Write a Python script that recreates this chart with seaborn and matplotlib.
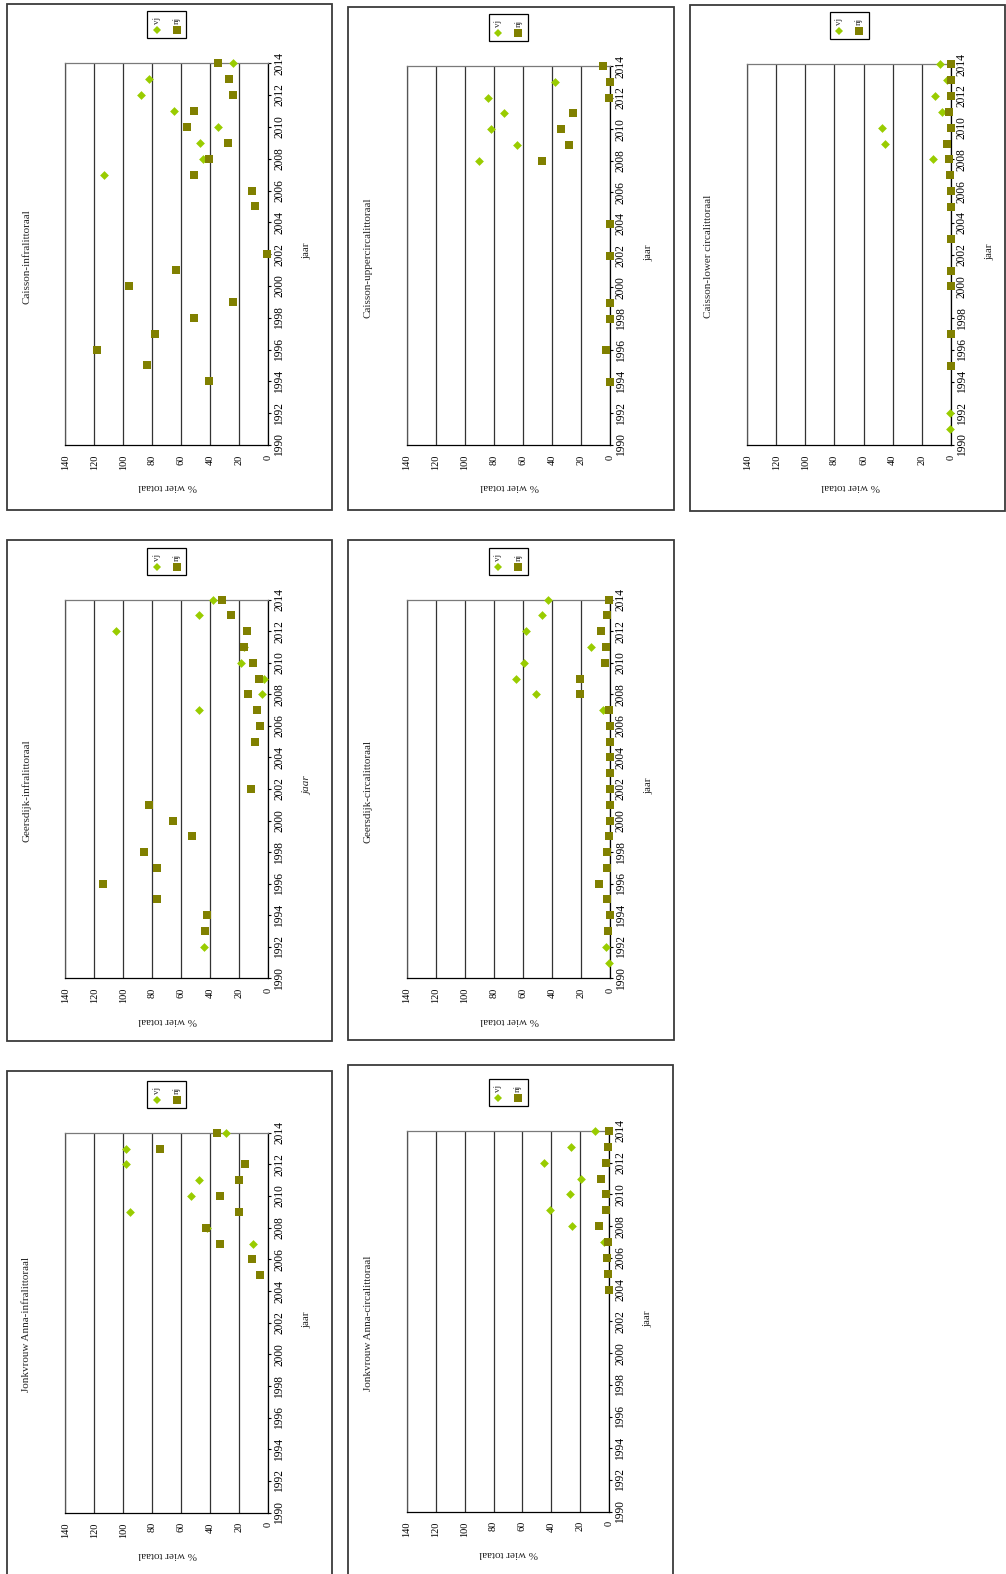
import matplotlib
matplotlib.use("Agg")
import matplotlib.pyplot as plt
from matplotlib.patches import Rectangle
from matplotlib.lines import Line2D
import seaborn as sns

sns.set_style("white")
plt.rcParams["font.family"] = ["Liberation Serif", "DejaVu Serif"]

W, H = 1006, 1574
VJ_COLOR = "#99CC00"
NJ_COLOR = "#808000"

# ---- data: % wier totaal per jaar, vj and nj ----
# Caisson-infralittoraal
ci_vj_years = [2014, 2013, 2012, 2011, 2010, 2009, 2008, 2007]
ci_vj = [24, 82, 88, 65, 35, 47, 45, 113]
ci_nj_years = [2014, 2013, 2012, 2011, 2010, 2009, 2008, 2007, 2006, 2005,
               2002, 2001, 2000, 1999, 1998, 1997, 1996, 1995, 1994]
ci_nj = [35, 27, 24, 51, 56, 28, 41, 51, 11, 9,
         1, 64, 96, 24, 51, 78, 118, 84, 41]

# Caisson-uppercircalittoraal
cu_vj_years = [2013, 2012, 2011, 2010, 2009, 2008]
cu_vj = [38, 84, 73, 82, 64, 90]
cu_nj_years = [2014, 2013, 2012, 2011, 2010, 2009, 2008, 2004, 2002,
               1999, 1998, 1996, 1994]
cu_nj = [5, 0, 1, 25.5, 34, 28.5, 47, 0, 0, 0.2, 0.2, 3, 0]

# Caisson-lower circalittoraal
cl_vj_years = [2014, 2013, 2012, 2011, 2010, 2009, 2008, 1992, 1991]
cl_vj = [7.5, 2.3, 10.5, 6, 47.5, 45, 12, 0.5, 0.5]
cl_nj_years = [2014, 2013, 2012, 2011, 2010, 2009, 2008, 2007, 2006, 2005,
               2003, 2001, 2000, 1997, 1995]
cl_nj = [0, 0, 0, 1, 0, 2.5, 1, 0.5, 0, 0, 0, 0, 0, 0, 0]

# Geersdijk-infralittoraal
gi_vj_years = [2014, 2013, 2012, 2011, 2010, 2009, 2008, 2007, 1992]
gi_vj = [38, 48, 105, 17, 19, 3, 4.5, 48, 44]
gi_nj_years = [2014, 2013, 2012, 2011, 2010, 2009, 2008, 2007, 2006, 2005,
               2002, 2001, 2000, 1999, 1998, 1997, 1996, 1995, 1994, 1993]
gi_nj = [32, 26, 14.5, 16.5, 10.5, 6.5, 14, 8, 6, 9,
         12, 82, 66, 52.5, 85.5, 77, 114, 77, 42, 43.5]

# Geersdijk-circalittoraal
gc_vj_years = [2014, 2013, 2012, 2011, 2010, 2009, 2008, 2007, 1992, 1991]
gc_vj = [43, 46.5, 58, 13, 59, 65, 51, 4.5, 3, 1]
gc_nj_years = [2014, 2013, 2012, 2011, 2010, 2009, 2008, 2007, 2006, 2005,
               2004, 2003, 2002, 2001, 2000, 1999, 1998, 1997, 1996, 1995,
               1994, 1993]
gc_nj = [1, 2.3, 6, 3, 3.5, 20.5, 20.5, 1, 0, 0,
         0, 0, 0, 0, 0, 1, 2.3, 2.3, 7.5, 2.3,
         0, 1.5]

# Jonkvrouw Anna-infralittoraal
ji_vj_years = [2014, 2013, 2012, 2011, 2010, 2009, 2008, 2007]
ji_vj = [29, 98, 98, 47.5, 53, 95.5, 42, 10.5]
ji_nj_years = [2014, 2013, 2012, 2011, 2010, 2009, 2008, 2007, 2006, 2005]
ji_nj = [35.5, 74.5, 16, 20.5, 33.5, 20, 43, 33.5, 11, 6]

# Jonkvrouw Anna-circalittoraal
jc_vj_years = [2014, 2013, 2012, 2011, 2010, 2009, 2008, 2007]
jc_vj = [10, 26.5, 45, 19.5, 27, 41, 26, 3.5]
jc_nj_years = [2014, 2013, 2012, 2011, 2010, 2009, 2008, 2007, 2006, 2005, 2004]
jc_nj = [0.5, 1.2, 2.5, 6, 2.5, 2.5, 7, 1.2, 1.8, 1.2, 0]

value_ticks = [0, 20, 40, 60, 80, 100, 120, 140]
year_ticks = list(range(1990, 2015, 2))

# ---- layout (pixel boxes: x0, y0, x1, y1 measured from the top-left) ----
panels = [
    dict(title="Caisson-infralittoraal", frame=(7, 4, 332, 510),
         plot=(65.3, 63.3, 268.3, 445), vj=(ci_vj_years, ci_vj), nj=(ci_nj_years, ci_nj)),
    dict(title="Caisson-uppercircalittoraal", frame=(348, 7, 674, 510),
         plot=(406.7, 66, 610, 445), vj=(cu_vj_years, cu_vj), nj=(cu_nj_years, cu_nj)),
    dict(title="Caisson-lower circalittoraal", frame=(690, 5, 1005, 511),
         plot=(747.3, 64.3, 950.7, 445), vj=(cl_vj_years, cl_vj), nj=(cl_nj_years, cl_nj)),
    dict(title="Geersdijk-infralittoraal", frame=(7, 540, 332, 1041),
         plot=(65.3, 599.7, 268.3, 978.3), vj=(gi_vj_years, gi_vj), nj=(gi_nj_years, gi_nj),
         jaar_style="italic"),
    dict(title="Geersdijk-circalittoraal", frame=(348, 540, 674, 1040),
         plot=(406.7, 599.7, 610, 978.3), vj=(gc_vj_years, gc_vj), nj=(gc_nj_years, gc_nj)),
    dict(title="Jonkvrouw Anna-infralittoraal", frame=(7, 1071, 332, 1600),
         plot=(65.3, 1132.7, 268.3, 1512.7), vj=(ji_vj_years, ji_vj), nj=(ji_nj_years, ji_nj)),
    dict(title="Jonkvrouw Anna-circalittoraal", frame=(348, 1065, 673, 1600),
         plot=(406.7, 1131, 609.3, 1511.7), vj=(jc_vj_years, jc_vj), nj=(jc_nj_years, jc_nj)),
]

fig = plt.figure(figsize=(W / 100, H / 100), dpi=100)
fig.patch.set_facecolor("white")


def fx(x):
    return x / W


def fy(y):
    return 1 - y / H


def draw_panel(p):
    x0, y0, x1, y1 = p["frame"]
    fig.add_artist(Rectangle((fx(x0), fy(y1)), (x1 - x0) / W, (y1 - y0) / H,
                             transform=fig.transFigure, fill=False,
                             edgecolor="#3a3a3a", linewidth=1.3))

    px0, py0, px1, py1 = p["plot"]
    ax = fig.add_axes([fx(px0), fy(py1), (px1 - px0) / W, (py1 - py0) / H])
    ax.set_facecolor("white")

    vj_years, vj_vals = p["vj"]
    nj_years, nj_vals = p["nj"]
    sns.scatterplot(x=vj_vals, y=vj_years, marker="D", color=VJ_COLOR, s=20,
                    linewidth=0, ax=ax, zorder=3, clip_on=False, legend=False)
    sns.scatterplot(x=nj_vals, y=nj_years, marker="s", color=NJ_COLOR, s=29,
                    linewidth=0, ax=ax, zorder=4, clip_on=False, legend=False)

    ax.set_xlim(140, 0)
    ax.set_ylim(1990, 2014)
    ax.set_xticks(value_ticks)
    ax.set_yticks(year_ticks)
    ax.set_xlabel("")
    ax.set_ylabel("")
    ax.xaxis.grid(True, color="#333333", linewidth=0.9)
    ax.yaxis.grid(False)
    ax.set_axisbelow(True)

    ax.yaxis.tick_right()
    ax.tick_params(axis="y", direction="out", length=2.4, width=0.8, pad=1.2,
                   labelsize=8.3, labelrotation=90, colors="black")
    ax.tick_params(axis="x", direction="out", length=3, width=0.8, pad=3.8,
                   labelsize=7.4, labelrotation=90, colors="black")
    for lab in ax.get_yticklabels():
        lab.set_va("center")
    for lab in ax.get_xticklabels():
        lab.set_ha("center")

    ax.spines["left"].set_color("#555555")
    ax.spines["top"].set_color("#7a7a7a")
    ax.spines["right"].set_color("black")
    ax.spines["bottom"].set_color("black")
    for s in ax.spines.values():
        s.set_linewidth(0.9)
        s.set_visible(True)

    cx = (px0 + px1) / 2
    cy = (py0 + py1) / 2
    fig.text(fx(px0 - 38.5), fy(cy + 2), p["title"], rotation=90,
             ha="center", va="center", fontsize=8)
    fig.text(fx(px1 + 39), fy(cy - 3), "jaar", rotation=90, ha="center",
             va="center", fontsize=8, style=p.get("jaar_style", "normal"))
    fig.text(fx(cx + 1), fy(py1 + 42), "% wier totaal", rotation=180,
             ha="center", va="center", fontsize=8)

    # legend box with vj / nj entries
    lw_, lh_ = 39, 27
    ltop = py0 - 52
    fig.add_artist(Rectangle((fx(cx - lw_ / 2), fy(ltop + lh_)), lw_ / W, lh_ / H,
                             transform=fig.transFigure, fill=True, facecolor="white",
                             edgecolor="black", linewidth=0.9))
    for dx, name, mk, col, ms in [(-10, "vj", "D", VJ_COLOR, 4.2),
                                  (10, "nj", "s", NJ_COLOR, 5.2)]:
        fig.text(fx(cx + dx), fy(ltop + 9.5), name, rotation=90, ha="center",
                 va="center", fontsize=6.5)
        fig.add_artist(Line2D([fx(cx + dx)], [fy(ltop + 19)], marker=mk,
                              markersize=ms, color=col, markeredgewidth=0,
                              linestyle="none", transform=fig.transFigure))


for p in panels:
    draw_panel(p)

fig.savefig("out.png", dpi=100, facecolor="white")
